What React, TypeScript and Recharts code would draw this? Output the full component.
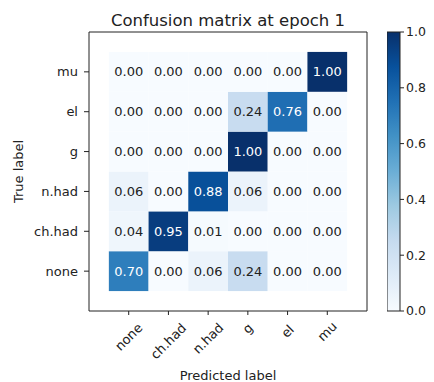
import React from 'react';
import { ScatterChart, Scatter, XAxis, YAxis, ReferenceArea, BarChart, Bar } from 'recharts';

// class names, bottom-to-top on the y axis and left-to-right on the x axis
const labels = ['none', 'ch.had', 'n.had', 'g', 'el', 'mu'];

// normalised confusion rows, one per true label
const noneRow = [0.7, 0.0, 0.06, 0.24, 0.0, 0.0];
const chHadRow = [0.04, 0.95, 0.01, 0.0, 0.0, 0.0];
const nHadRow = [0.06, 0.0, 0.88, 0.06, 0.0, 0.0];
const gRow = [0.0, 0.0, 0.0, 1.0, 0.0, 0.0];
const elRow = [0.0, 0.0, 0.0, 0.24, 0.76, 0.0];
const muRow = [0.0, 0.0, 0.0, 0.0, 0.0, 1.0];
const rows = [noneRow, chHadRow, nHadRow, gRow, elRow, muRow];

const colorbarTicks = [0, 0.2, 0.4, 0.6, 0.8, 1.0];

// matplotlib "Blues"
const BLUES = ['#f7fbff', '#deebf7', '#c6dbef', '#9ecae1', '#6baed6', '#4292c6', '#2171b5', '#08519c', '#08306b'];

const hexToRgb = (h: string) => [1, 3, 5].map((i) => parseInt(h.slice(i, i + 2), 16));

const blues = (t: number) => {
  const p = Math.max(0, Math.min(1, t)) * (BLUES.length - 1);
  const i = Math.min(Math.floor(p), BLUES.length - 2);
  const f = p - i;
  const a = hexToRgb(BLUES[i]);
  const b = hexToRgb(BLUES[i + 1]);
  const c = a.map((v, k) => Math.round(v + (b[k] - v) * f));
  return `rgb(${c[0]},${c[1]},${c[2]})`;
};

const cells = rows.flatMap((row, yi) => row.map((v, xi) => ({ x: xi, y: yi, v })));
const colorbarData = [{ name: 'scale', value: colorbarTicks[colorbarTicks.length - 1] }];

const FONT = '"DejaVu Sans", sans-serif';
const INK = '#222';
const PLOT_W = 278;
const PLOT_H = 279;
const CELL_W = PLOT_W / 7;
const CELL_H = PLOT_H / 7;

const HeatCell = (props: any) => {
  const { cx, cy, payload } = props;
  const v: number = payload.v;
  return (
    <g>
      <rect x={cx - CELL_W / 2} y={cy - CELL_H / 2} width={CELL_W} height={CELL_H} fill={blues(v)} />
      <text
        x={cx}
        y={cy}
        textAnchor="middle"
        dominantBaseline="central"
        fontSize={13}
        fill={v > 0.5 ? '#fff' : INK}
      >
        {v.toFixed(2)}
      </text>
    </g>
  );
};

// rotated x tick, centred on the tick like matplotlib's rotation=45
const RotatedTick = (props: any) => {
  const { x, y, payload } = props;
  const name = labels[payload.value] ?? '';
  const len = name.split('').reduce((s, ch) => s + (ch === '.' ? 4 : 8), 0);
  const cy = y + (len + 16) * 0.3535;
  return (
    <text
      x={x}
      y={cy}
      textAnchor="middle"
      dominantBaseline="central"
      fontSize={13}
      fill={INK}
      transform={`rotate(-45, ${x}, ${cy})`}
    >
      {name}
    </text>
  );
};

export default function App() {
  return (
    <div style={{ position: 'relative', width: 418, height: 374, fontFamily: FONT }}>
      <div style={{ position: 'absolute', left: 0, top: 0 }}>
        <ScatterChart width={372} height={374} margin={{ top: 24, right: 13, bottom: 0, left: 0 }}>
          <XAxis
            type="number"
            dataKey="x"
            domain={[-1, 6]}
            ticks={[0, 1, 2, 3, 4, 5]}
            interval={0}
            height={71}
            axisLine={false}
            tickSize={4}
            tickMargin={5}
            tickLine={{ stroke: INK }}
            tick={<RotatedTick />}
          />
          <YAxis
            type="number"
            dataKey="y"
            domain={[-1, 6]}
            ticks={[0, 1, 2, 3, 4, 5]}
            interval={0}
            width={81}
            axisLine={false}
            tickSize={5}
            tickMargin={6}
            tickLine={{ stroke: INK }}
            tick={{ fontSize: 13, fill: INK }}
            tickFormatter={(v: number) => labels[v]}
          />
          <Scatter data={cells} shape={<HeatCell />} isAnimationActive={false} />
          <ReferenceArea x1={-1} x2={6} y1={-1} y2={6} fill="none" stroke={INK} strokeWidth={1} />
        </ScatterChart>
      </div>

      <div style={{ position: 'absolute', left: 379, top: 0 }}>
        <BarChart
          width={39}
          height={374}
          data={colorbarData}
          barCategoryGap={0}
          margin={{ top: 24, right: 0, bottom: 71, left: 0 }}
        >
          <defs>
            <linearGradient id="bluesGradient" x1="0" y1="1" x2="0" y2="0">
              {BLUES.map((c, i) => (
                <stop key={c} offset={i / (BLUES.length - 1)} stopColor={c} />
              ))}
            </linearGradient>
          </defs>
          <XAxis dataKey="name" hide />
          <YAxis
            orientation="right"
            type="number"
            domain={[0, 1]}
            ticks={colorbarTicks}
            interval={0}
            width={26}
            axisLine={false}
            tickSize={4}
            tickMargin={2}
            tickLine={{ stroke: INK }}
            tick={{ fontSize: 12.5, fill: INK }}
            tickFormatter={(v: number) => v.toFixed(1)}
          />
          <Bar dataKey="value" fill="url(#bluesGradient)" stroke={INK} strokeWidth={1} isAnimationActive={false} />
        </BarChart>
      </div>

      <svg width={418} height={374} style={{ position: 'absolute', left: 0, top: 0, pointerEvents: 'none' }}>
        <text x={220} y={18} textAnchor="middle" fontSize={16.5} fill={INK}>
          Confusion matrix at epoch 1
        </text>
        <text x={220} y={372} textAnchor="middle" fontSize={13} fill={INK}>
          Predicted label
        </text>
        <text x={15} y={163.5} textAnchor="middle" fontSize={13} fill={INK} transform="rotate(-90, 15, 163.5)">
          True label
        </text>
      </svg>
    </div>
  );
}
